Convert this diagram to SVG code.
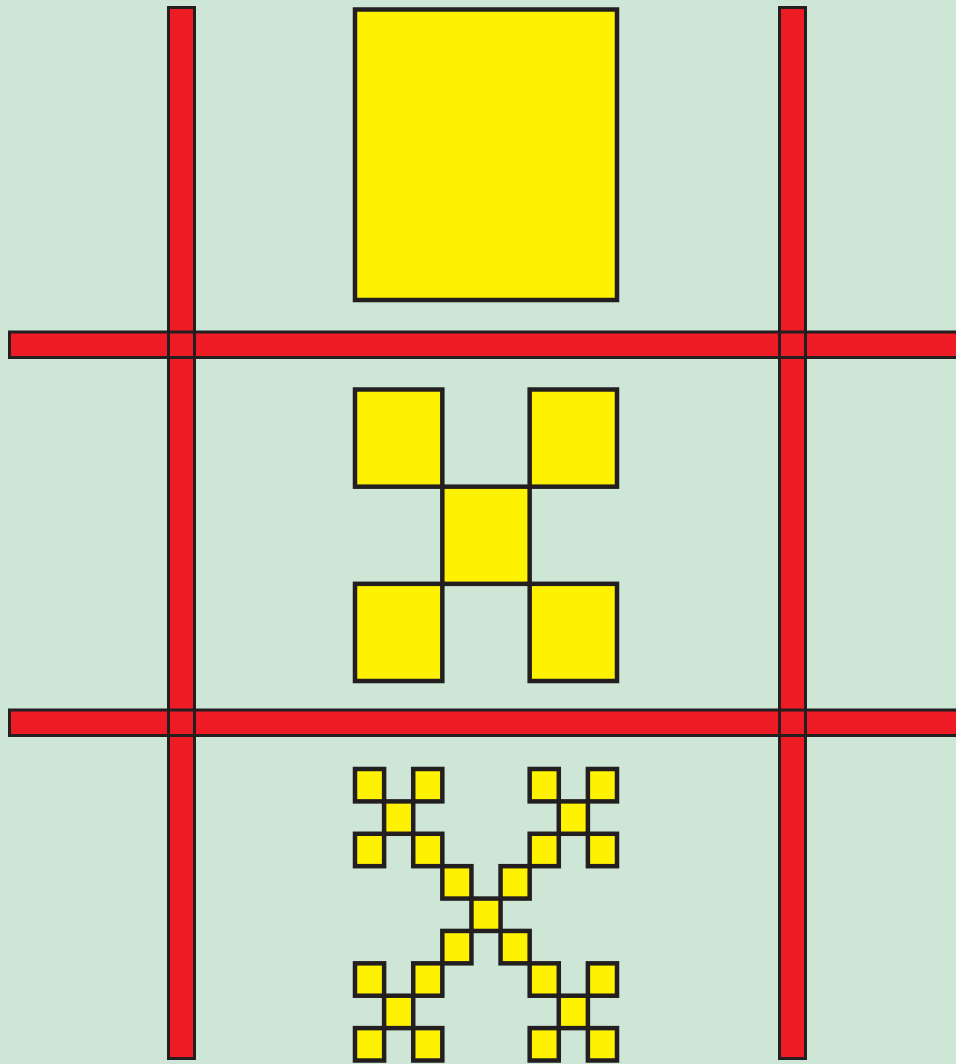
<svg xmlns="http://www.w3.org/2000/svg" width="956" height="1064" viewBox="0 0 956 1064">
<style>
.bar{fill:#ed1c24;stroke:none}
.edge{fill:none;stroke:#231f20;stroke-width:3}
.sq{fill:#fff200;stroke:#231f20;stroke-width:4.5}
</style>
<rect x="0" y="0" width="956" height="1064" fill="#cde6d6"/>
<g id="bars">
<rect class="bar" x="168.5" y="7.5" width="26" height="1051"/>
<rect class="bar" x="779.5" y="7.5" width="26" height="1051"/>
<rect class="bar" x="9.5" y="332" width="960" height="25.5"/>
<rect class="bar" x="9.5" y="710" width="960" height="25.5"/>
<rect class="edge" x="168.5" y="7.5" width="26" height="1051"/>
<rect class="edge" x="779.5" y="7.5" width="26" height="1051"/>
<rect class="edge" x="9.5" y="332" width="960" height="25.5"/>
<rect class="edge" x="9.5" y="710" width="960" height="25.5"/>
</g>
<g id="level0">
<rect class="sq" x="355" y="9.5" width="262" height="290.5"/>
</g>
<g id="level1">
<rect class="sq" x="355" y="389.5" width="87.33" height="97.17"/>
<rect class="sq" x="529.67" y="389.5" width="87.33" height="97.17"/>
<rect class="sq" x="442.33" y="486.67" width="87.33" height="97.17"/>
<rect class="sq" x="355" y="583.83" width="87.33" height="97.17"/>
<rect class="sq" x="529.67" y="583.83" width="87.33" height="97.17"/>
</g>
<g id="level2">
<rect class="sq" x="355" y="769" width="29.11" height="32.39"/>
<rect class="sq" x="413.22" y="769" width="29.11" height="32.39"/>
<rect class="sq" x="384.11" y="801.39" width="29.11" height="32.39"/>
<rect class="sq" x="355" y="833.78" width="29.11" height="32.39"/>
<rect class="sq" x="413.22" y="833.78" width="29.11" height="32.39"/>
<rect class="sq" x="529.67" y="769" width="29.11" height="32.39"/>
<rect class="sq" x="587.89" y="769" width="29.11" height="32.39"/>
<rect class="sq" x="558.78" y="801.39" width="29.11" height="32.39"/>
<rect class="sq" x="529.67" y="833.78" width="29.11" height="32.39"/>
<rect class="sq" x="587.89" y="833.78" width="29.11" height="32.39"/>
<rect class="sq" x="442.33" y="866.17" width="29.11" height="32.39"/>
<rect class="sq" x="500.56" y="866.17" width="29.11" height="32.39"/>
<rect class="sq" x="471.44" y="898.56" width="29.11" height="32.39"/>
<rect class="sq" x="442.33" y="930.94" width="29.11" height="32.39"/>
<rect class="sq" x="500.56" y="930.94" width="29.11" height="32.39"/>
<rect class="sq" x="355" y="963.33" width="29.11" height="32.39"/>
<rect class="sq" x="413.22" y="963.33" width="29.11" height="32.39"/>
<rect class="sq" x="384.11" y="995.72" width="29.11" height="32.39"/>
<rect class="sq" x="355" y="1028.11" width="29.11" height="32.39"/>
<rect class="sq" x="413.22" y="1028.11" width="29.11" height="32.39"/>
<rect class="sq" x="529.67" y="963.33" width="29.11" height="32.39"/>
<rect class="sq" x="587.89" y="963.33" width="29.11" height="32.39"/>
<rect class="sq" x="558.78" y="995.72" width="29.11" height="32.39"/>
<rect class="sq" x="529.67" y="1028.11" width="29.11" height="32.39"/>
<rect class="sq" x="587.89" y="1028.11" width="29.11" height="32.39"/>
</g>
</svg>
